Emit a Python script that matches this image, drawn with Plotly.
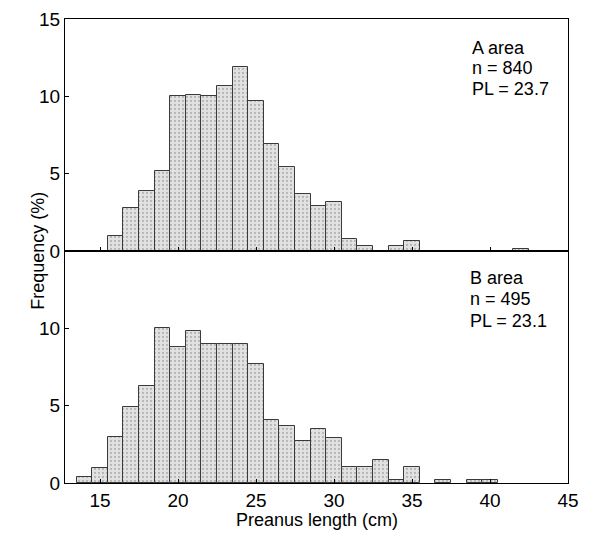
import plotly.graph_objects as go
from plotly.subplots import make_subplots

# Data (bar centres = 1 cm classes, frequency in %; None = empty class)
length_cm = list(range(14, 43))
freq_A = [None, None, 1.0, 2.8, 3.9, 5.2, 10.0, 10.1, 10.0, 10.7, 11.9, 9.7, 6.9, 5.4, 3.7,
          2.9, 3.2, 0.8, 0.35, None, 0.35, 0.65, None, None, None, None, None, None, 0.1]
freq_B = [0.4, 1.0, 3.0, 4.9, 6.3, 10.0, 8.8, 9.8, 9.0, 9.0, 9.0, 7.7, 4.1, 3.7, 2.7,
          3.5, 2.9, 1.05, 1.05, 1.5, 0.2, 1.05, None, 0.2, None, 0.2, 0.2, None, None]
labels_A = ["A area", "n = 840", "PL = 23.7"]
labels_B = ["B area", "n = 495", "PL = 23.1"]
x_ticks = [15, 20, 25, 30, 35, 40, 45]

FONT = "Liberation Sans, Arial, sans-serif"

fig = make_subplots(rows=2, cols=1, shared_xaxes=True, vertical_spacing=0)

bar_style = dict(
    width=1,
    marker=dict(
        color="#d8d8d8",
        line=dict(color="#3a3a3a", width=1),
        pattern=dict(shape=".", fgcolor="#8a8a8a", bgcolor="#e2e2e2", size=4, solidity=0.25),
    ),
    showlegend=False,
)

fig.add_trace(go.Bar(x=length_cm, y=freq_A, **bar_style), row=1, col=1)
fig.add_trace(go.Bar(x=length_cm, y=freq_B, **bar_style), row=2, col=1)

axis_common = dict(showline=True, linecolor="black", linewidth=1.3, mirror=True,
                   ticks="inside", ticklen=4, tickcolor="black", showgrid=False,
                   zeroline=False, automargin=False, ticklabeloverflow="allow",
                   tickfont=dict(family=FONT, size=19, color="black"))

fig.update_xaxes(range=[12.75, 45], tickvals=x_ticks, **axis_common)
fig.update_xaxes(showticklabels=False, row=1, col=1)
fig.update_yaxes(range=[0, 15], **axis_common)
fig.update_yaxes(tickvals=[0, 5, 10, 15], row=1, col=1)
fig.update_yaxes(tickvals=[0, 5, 10], row=2, col=1)

ys_A = [0.938, 0.895, 0.850]
ys_B = [0.441, 0.396, 0.349]
for txt, yy in zip(labels_A, ys_A):
    fig.add_annotation(xref="paper", yref="paper", x=0.805, y=yy, xanchor="left", yanchor="middle",
                       text=txt, showarrow=False, align="left",
                       font=dict(family=FONT, size=18, color="black"))
for txt, yy in zip(labels_B, ys_B):
    fig.add_annotation(xref="paper", yref="paper", x=0.801, y=yy, xanchor="left", yanchor="middle",
                       text=txt, showarrow=False, align="left",
                       font=dict(family=FONT, size=18, color="black"))
fig.add_annotation(xref="paper", yref="paper", x=-0.054, y=0.5, xanchor="center", yanchor="middle",
                   text="Frequency (%)", textangle=-90, showarrow=False,
                   font=dict(family=FONT, size=18, color="black"))
fig.add_annotation(xref="paper", yref="paper", x=0.5, y=-0.079, xanchor="center", yanchor="middle",
                   text="Preanus length (cm)", showarrow=False,
                   font=dict(family=FONT, size=18, color="black"))

# page body has an 8px default margin, so the figure is sized/offset to compensate
fig.update_layout(width=573, height=527, margin=dict(l=57, r=13, t=11, b=52),
                  bargap=0, plot_bgcolor="white", paper_bgcolor="white",
                  font=dict(family=FONT, color="black"))

fig.write_html("out.html")
